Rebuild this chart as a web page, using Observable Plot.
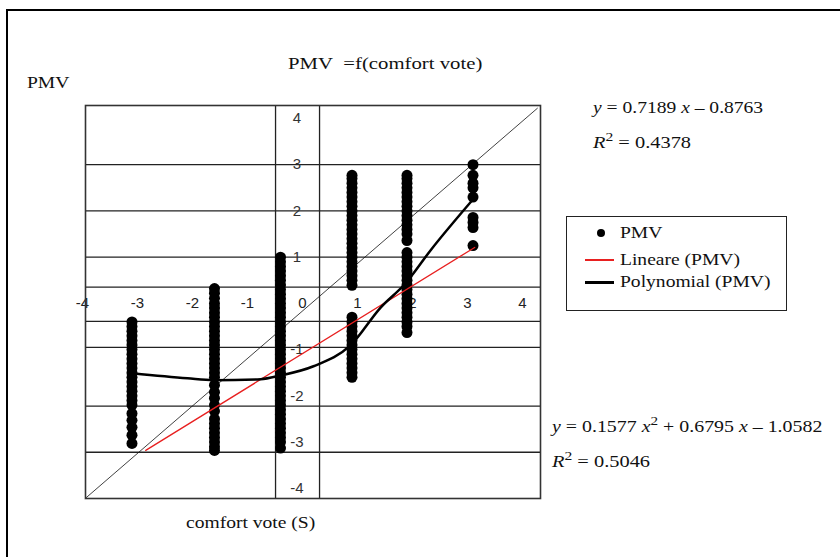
<!DOCTYPE html>
<html><head><meta charset="utf-8">
<script src="https://cdn.jsdelivr.net/npm/d3@7"></script>
<script src="https://cdn.jsdelivr.net/npm/@observablehq/plot@0.6"></script>
<style>
html,body{margin:0;padding:0;background:#fff;overflow:hidden;}
#wrap{position:relative;width:840px;height:557px;overflow:hidden;font-family:"Liberation Serif","Times New Roman",serif;color:#111;}
#border{position:absolute;left:6px;top:9px;width:900px;height:700px;border-left:2.5px solid #000;border-top:2.5px solid #000;}
.t{position:absolute;white-space:nowrap;line-height:1;font-size:17px;transform-origin:0 50%;transform:scaleX(1.15);}
#chart{position:absolute;left:0;top:0;}
.lg{position:absolute;left:566px;top:216px;width:219px;height:93px;border:1.5px solid #222;}
.sym{position:absolute;}
i{font-style:italic;}
sup{font-size:13px;vertical-align:7px;line-height:0;}
</style></head><body>
<div id="wrap">
  <div id="chart"></div>
  <div id="border"></div>
  <div class="t" style="left:288px;top:55px;transform:scaleX(1.22);">PMV&nbsp;&nbsp;=f(comfort vote)</div>
  <div class="t" style="left:27px;top:74px;">PMV</div>
  <div class="t" style="left:593px;top:99px;"><i>y</i> = 0.7189 <i>x</i> – 0.8763</div>
  <div class="t" style="left:593px;top:134px;transform:scaleX(1.2);"><i>R</i><sup>2</sup> = 0.4378</div>
  <div class="lg"></div>
  <div class="sym" style="left:597px;top:229px;width:8px;height:8px;border-radius:50%;background:#000;"></div>
  <div class="sym" style="left:585px;top:259px;width:29px;height:2px;background:#e82020;"></div>
  <div class="sym" style="left:585px;top:281px;width:29px;height:2.5px;background:#000;"></div>
  <div class="t" style="left:620px;top:224px;">PMV</div>
  <div class="t" style="left:620px;top:251px;">Lineare (PMV)</div>
  <div class="t" style="left:620px;top:273px;">Polynomial (PMV)</div>
  <div class="t" style="left:552px;top:418px;transform:scaleX(1.17);"><i>y</i> = 0.1577 <i>x</i><sup>2</sup> + 0.6795 <i>x</i> – 1.0582</div>
  <div class="t" style="left:552px;top:453px;transform:scaleX(1.2);"><i>R</i><sup>2</sup> = 0.5046</div>
  <div class="t" style="left:186px;top:514px;">comfort vote (S)</div>
</div>
<script>
// comfort-vote columns
const votes = [-3.1, -1.6, -0.4, 0.9, 1.9, 3.1];
// PMV values per column
const pmvA = [-0.4,-0.5,-0.6,-0.7,-0.8,-0.9,-1.0,-1.1,-1.2,-1.3,-1.4,-1.5,-1.6,-1.7,-1.8,-1.9,-2.0,-2.1,-2.2,-2.38,-2.53,-2.68,-2.85,-3.03];
const pmvB = [0.32,0.22,0.11,0.0,-0.1,-0.2,-0.3,-0.4,-0.5,-0.6,-0.7,-0.8,-0.9,-1.0,-1.1,-1.2,-1.3,-1.4,-1.5,-1.6,-1.77,-1.92,-2.05,-2.2,-2.33,-2.5,-2.6,-2.7,-2.8,-2.9,-3.0,-3.1,-3.18];
const pmvC = [1.0,0.9,0.8,0.7,0.6,0.5,0.4,0.3,0.2,0.1,0.0,-0.1,-0.2,-0.3,-0.4,-0.5,-0.6,-0.7,-0.8,-0.9,-1.0,-1.1,-1.2,-1.3,-1.4,-1.5,-1.6,-1.7,-1.8,-1.9,-2.0,-2.1,-2.2,-2.3,-2.4,-2.5,-2.6,-2.7,-2.8,-2.9,-3.0,-3.13];
const pmvD = [2.77,2.7,2.6,2.5,2.4,2.3,2.2,2.1,2.0,1.9,1.8,1.7,1.6,1.5,1.4,1.3,1.2,1.1,1.0,0.9,0.8,0.7,0.6,0.5,0.39,-0.3,-0.4,-0.5,-0.6,-0.7,-0.8,-0.9,-1.0,-1.1,-1.2,-1.3,-1.4,-1.5,-1.6];
const pmvE = [2.77,2.7,2.6,2.5,2.4,2.3,2.2,2.1,2.0,1.9,1.8,1.7,1.6,1.5,1.36,1.1,1.0,0.9,0.8,0.7,0.6,0.5,0.4,0.3,0.2,0.1,0.0,-0.1,-0.2,-0.3,-0.4,-0.5,-0.63];
const pmvF = [3.0,2.77,2.6,2.5,2.3,1.86,1.75,1.64,1.25];
const pmvColumns = [pmvA, pmvB, pmvC, pmvD, pmvE, pmvF];

// trend lines
const linX = [-2.85, 3.13];
const linY = [-3.18, 1.21];
const polyX = [-3.09, -2.09, -1.62, -0.76, -0.4, 0.2, 0.87, 1.42, 1.87, 2.33, 3.13];
const polyY = [-1.51, -1.62, -1.66, -1.64, -1.56, -1.36, -0.91, -0.09, 0.43, 1.15, 2.29];
const diagX = [-3.95, 4.27];
const diagY = [-4.22, 4.22];

// grid and tick labels
const gridY = [3, 2, 1, 0.35, -0.39, -0.95, -2.22, -3.22];
const gridX = [-0.49, 0.31];
const xTicks = [-4, -3, -2, -1, 0, 1, 2, 3, 4];
const yTicks = [4, 3, 2, 1, -1, -2, -3, -4];

const points = votes.flatMap((v, i) => pmvColumns[i].map(p => ({vote: v, pmv: p})));
const lin = linX.map((x, i) => ({x, y: linY[i]}));
const poly = polyX.map((x, i) => ({x, y: polyY[i]}));
const diag = diagX.map((x, i) => ({x, y: diagY[i]}));

const chart = Plot.plot({
  width: 840, height: 557,
  marginLeft: 85, marginRight: 300, marginTop: 105, marginBottom: 59,
  x: {domain: [-3.945, 4.327], axis: null},
  y: {domain: [-4.22, 4.28], axis: null},
  style: {background: "transparent", fontFamily: "Liberation Sans, Arial, sans-serif"},
  marks: [
    Plot.ruleY(gridY, {stroke: "#222", strokeWidth: 1.3}),
    Plot.ruleX(gridX, {stroke: "#222", strokeWidth: 1.3}),
    Plot.line(diag, {x: "x", y: "y", stroke: "#111", strokeWidth: 0.8}),
    Plot.text(xTicks, {x: d => d, y: 0, text: d => String(d), fontSize: 15, fill: "#222"}),
    Plot.text(yTicks, {x: -0.1, y: d => d, text: d => String(d), fontSize: 15, fill: "#333"}),
    Plot.dot(points, {x: "vote", y: "pmv", r: 5.5, fill: "#000", stroke: "none"}),
    Plot.line(lin, {x: "x", y: "y", stroke: "#e82020", strokeWidth: 1.3}),
    Plot.line(poly, {x: "x", y: "y", stroke: "#000", strokeWidth: 2.5, curve: "monotone-x"}),
    Plot.frame({stroke: "#333", strokeWidth: 1.6})
  ]
});
document.getElementById("chart").appendChild(chart);
</script>
</body></html>
